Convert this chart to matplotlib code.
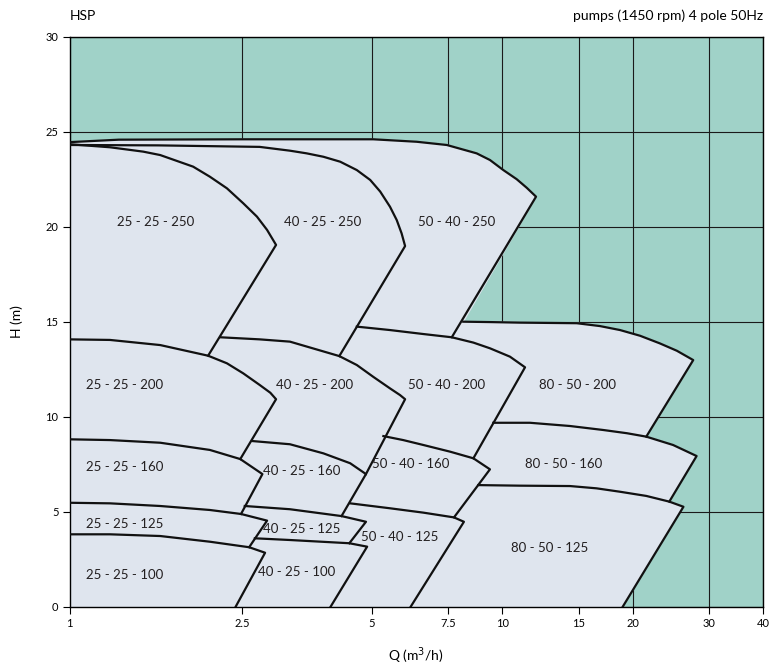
import numpy as np
import matplotlib.pyplot as plt

# head curves (Q m3/h, H m), one list per impeller
c25_250 = [(1.0, 24.34), (1.24, 24.18), (1.48, 23.95), (1.62, 23.77), (1.93, 23.16), (2.11, 22.63),
           (2.31, 22.02), (2.52, 21.23), (2.71, 20.53), (2.86, 19.83), (3.0, 19.04)]
c25_200 = [(1.0, 14.07), (1.24, 14.04), (1.62, 13.77), (2.09, 13.21), (2.31, 12.81), (2.52, 12.28),
           (2.75, 11.67), (2.91, 11.26), (3.0, 10.92)]
c25_160 = [(1.0, 8.81), (1.24, 8.77), (1.62, 8.63), (2.11, 8.25), (2.48, 7.77), (2.79, 6.98)]
c25_125 = [(1.0, 5.47), (1.24, 5.44), (1.62, 5.30), (2.11, 5.09), (2.49, 4.88), (2.86, 4.53)]
c25_100 = [(1.0, 3.81), (1.24, 3.81), (1.62, 3.72), (2.11, 3.42), (2.60, 3.13), (2.83, 2.84)]

c40_250 = [(1.0, 24.30), (1.6, 24.28), (2.75, 24.20), (3.23, 24.0), (3.53, 23.86), (3.86, 23.68),
           (4.22, 23.42), (4.61, 22.98), (4.95, 22.46), (5.22, 21.85), (5.50, 21.05), (5.70, 20.35),
           (5.85, 19.65), (5.96, 18.98)]
c40_200 = [(2.23, 14.18), (2.75, 14.07), (3.23, 13.95), (4.20, 13.19), (4.61, 12.72), (5.03, 12.10),
           (5.50, 11.49), (5.80, 11.14), (5.96, 10.92)]
c40_160 = [(2.64, 8.72), (3.23, 8.55), (3.86, 8.07), (4.45, 7.55), (4.84, 6.98)]
c40_125 = [(2.54, 5.30), (3.23, 5.13), (4.25, 4.77), (4.84, 4.47)]
c40_100 = [(2.68, 3.60), (3.23, 3.51), (4.43, 3.34), (4.87, 3.16)]

c50_250 = [(1.0, 24.45), (1.3, 24.58), (2.52, 24.60), (5.03, 24.60), (6.34, 24.47), (7.44, 24.30),
           (8.72, 23.86), (9.36, 23.51), (10.05, 22.98), (10.79, 22.50), (11.38, 22.05), (11.96, 21.58)]
c50_200 = [(4.61, 14.74), (5.50, 14.56), (6.57, 14.35), (7.64, 14.18), (8.57, 13.90), (9.36, 13.60),
           (10.41, 13.16), (11.28, 12.60)]
c50_160 = [(5.31, 8.98), (5.90, 8.77), (6.57, 8.51), (7.57, 8.16), (8.57, 7.81), (9.36, 7.23)]
c50_125 = [(4.45, 5.44), (5.50, 5.18), (6.57, 4.95), (7.73, 4.70), (8.15, 4.47)]

c80_200 = [(8.12, 15.00), (9.36, 14.98), (10.98, 14.95), (14.85, 14.92), (16.8, 14.77), (18.7, 14.56),
           (20.8, 14.26), (23.1, 13.86), (25.3, 13.47), (27.6, 12.98)]
c80_160 = [(9.53, 9.68), (11.58, 9.68), (14.33, 9.51), (17.1, 9.30), (19.4, 9.13), (21.5, 8.95),
           (24.8, 8.51), (28.1, 7.93)]
c80_125 = [(8.80, 6.40), (10.98, 6.37), (14.33, 6.35), (16.5, 6.23), (18.7, 6.05), (21.5, 5.83),
           (24.3, 5.53), (26.2, 5.26)]

# lower end of the sloped line that closes each curve on the right
ends = {
    "25_250": (2.09, 13.21), "25_200": (2.48, 7.77), "25_160": (2.49, 4.88),
    "25_125": (2.60, 3.13), "25_100": (2.42, 0.0),
    "40_250": (4.20, 13.19), "40_200": (4.84, 6.98), "40_160": (4.25, 4.77),
    "40_125": (4.43, 3.34), "40_100": (4.01, 0.0),
    "50_250": (7.64, 14.18), "50_200": (8.57, 7.81), "50_160": (7.73, 4.70),
    "50_125": (6.14, 0.0),
    "80_200": (21.5, 8.95), "80_160": (24.3, 5.53), "80_125": (18.97, 0.0),
}
curves = {
    "25_250": c25_250, "25_200": c25_200, "25_160": c25_160, "25_125": c25_125, "25_100": c25_100,
    "40_250": c40_250, "40_200": c40_200, "40_160": c40_160, "40_125": c40_125, "40_100": c40_100,
    "50_250": c50_250, "50_200": c50_200, "50_160": c50_160, "50_125": c50_125,
    "80_200": c80_200, "80_160": c80_160, "80_125": c80_125,
}

labels = ["25 - 25 - 250", "40 - 25 - 250", "50 - 40 - 250",
          "25 - 25 - 200", "40 - 25 - 200", "50 - 40 - 200", "80 - 50 - 200",
          "25 - 25 - 160", "40 - 25 - 160", "50 - 40 - 160", "80 - 50 - 160",
          "25 - 25 - 125", "40 - 25 - 125", "50 - 40 - 125", "80 - 50 - 125",
          "25 - 25 - 100", "40 - 25 - 100"]
label_q = [1.58, 3.85, 7.86, 1.34, 3.69, 7.45, 14.95, 1.34, 3.44, 6.15, 13.88, 1.34, 3.44, 5.80, 12.88, 1.34, 3.35]
label_h = [20.25, 20.25, 20.25, 11.67, 11.67, 11.67, 11.67, 7.35, 7.14, 7.51, 7.51, 4.35, 4.09, 3.66, 3.09, 1.67, 1.83]

xticks = [1, 2.5, 5, 7.5, 10, 15, 20, 30, 40]
xtick_labels = ["1", "2.5", "5", "7.5", "10", "15", "20", "30", "40"]
yticks = [0, 5, 10, 15, 20, 25, 30]

plt.rcParams["font.family"] = ["Lato", "DejaVu Sans"]

fig = plt.figure(figsize=(7.7, 6.67), dpi=100)
ax = fig.add_axes([0.0903, 0.0904, 0.9006, 0.8546])
ax.set_xscale("log")
ax.set_xlim(1, 40)
ax.set_ylim(0, 30)
ax.set_facecolor("#a0d2c8")

# outer envelope of all the pumps, filled light
env = [(1.0, 0.0)] + c50_250 + c80_200
env += [p for p in c80_160 if p[0] >= ends["80_200"][0]]
env += [p for p in c80_125 if p[0] >= ends["80_160"][0]]
env += [ends["80_125"]]
env = np.array(env)
ax.fill(env[:, 0], env[:, 1], color="#dfe5ee", zorder=1)

for key, pts in curves.items():
    pts = np.array(pts + [ends[key]])
    ax.plot(pts[:, 0], pts[:, 1], color="#111111", lw=1.6, solid_joinstyle="round", zorder=3)

for txt, q, h in zip(labels, label_q, label_h):
    ax.text(q, h, txt, ha="center", va="center", fontsize=9.5, color="#231f20", zorder=4)

ax.set_axisbelow(True)
ax.grid(True, which="major", color="#1a1a1a", lw=0.8)
ax.minorticks_off()
ax.set_xticks(xticks)
ax.set_xticklabels(xtick_labels)
ax.set_yticks(yticks)
ax.tick_params(direction="out", length=5, width=0.8, labelsize=8, pad=3)
for s in ax.spines.values():
    s.set_linewidth(1.0)

ax.set_xlabel("Q (m$^3$/h)", fontsize=10, labelpad=12)
ax.set_ylabel("H (m)", fontsize=10, labelpad=16)
ax.text(0.0, 1.025, "HSP", transform=ax.transAxes, ha="left", va="bottom", fontsize=10)
ax.text(1.0, 1.025, "pumps (1450 rpm) 4 pole 50Hz", transform=ax.transAxes, ha="right", va="bottom", fontsize=10)

fig.savefig("out.png", dpi=100)
